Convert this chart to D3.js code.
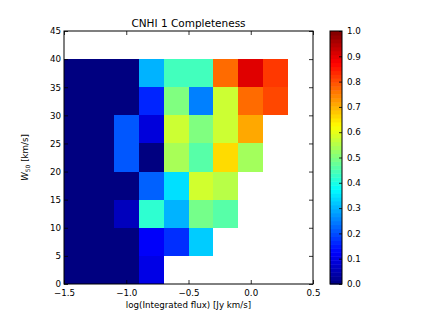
<!DOCTYPE html>
<html>
<head>
<meta charset="utf-8">
<script src="https://cdn.jsdelivr.net/npm/d3@7"></script>
<style>
  body { margin: 0; background: #fff; }
  svg { font-family: "DejaVu Sans", sans-serif; }
</style>
</head>
<body>
<svg id="chart"></svg>
<script>
// bin edges
const xEdges = [-1.5, -1.3, -1.1, -0.9, -0.7, -0.5, -0.3, -0.1, 0.1, 0.3];
const yEdges = [0, 5, 10, 15, 20, 25, 30, 35, 40];

// completeness per W50 row (bottom row first), null = no data
const row0 = [0, 0, 0, 0.10, null, null, null, null, null];
const row1 = [0, 0, 0, 0.12, 0.17, 0.325, null, null, null];
const row2 = [0, 0, 0.06, 0.42, 0.30, 0.49, 0.46, null, null];
const row3 = [0, 0, 0, 0.22, 0.345, 0.58, 0.555, null, null];
const row4 = [0, 0, 0.21, 0, 0.54, 0.46, 0.66, 0.535, null];
const row5 = [0, 0, 0.21, 0.09, 0.575, 0.50, 0.575, 0.71, null];
const row6 = [0, 0, 0, 0.16, 0.50, 0.25, 0.575, 0.77, 0.805];
const row7 = [0, 0, 0, 0.30, 0.44, 0.44, 0.77, 0.905, 0.82];
const rows = [row0, row1, row2, row3, row4, row5, row6, row7];

const xTicks = [-1.5, -1.0, -0.5, 0.0, 0.5];
const yTicks = [0, 5, 10, 15, 20, 25, 30, 35, 40, 45];
const cTicks = [0, 0.1, 0.2, 0.3, 0.4, 0.5, 0.6, 0.7, 0.8, 0.9, 1.0];

const W = 421, H = 316;
const svg = d3.select("#chart").attr("width", W).attr("height", H);

const m = { left: 64, right: 313, top: 31, bottom: 284 };
const x = d3.scaleLinear().domain([-1.5, 0.5]).range([m.left, m.right]);
const y = d3.scaleLinear().domain([0, 45]).range([m.bottom, m.top]);

// matplotlib jet
const clip = v => Math.max(0, Math.min(1, v));
const jet = t => {
  const r = clip(1.5 - Math.abs(4 * t - 3));
  const g = clip(1.5 - Math.abs(4 * t - 2));
  const b = clip(1.5 - Math.abs(4 * t - 1));
  return d3.rgb(r * 255, g * 255, b * 255).toString();
};

const fmt = d3.format(".1f");
const minus = s => s.replace("-", "\u2212");

// cells
const cells = [];
rows.forEach((row, j) => {
  row.forEach((v, i) => {
    if (v !== null) cells.push({ i, j, v });
  });
});

svg.append("g")
  .selectAll("rect")
  .data(cells)
  .enter()
  .append("rect")
  .attr("x", d => x(xEdges[d.i]))
  .attr("y", d => y(yEdges[d.j] + 5))
  .attr("width", d => x(xEdges[d.i] + 0.2) - x(xEdges[d.i]))
  .attr("height", d => y(yEdges[d.j]) - y(yEdges[d.j] + 5))
  .attr("fill", d => jet(d.v))
  .attr("shape-rendering", "crispEdges");

// axes, ticks inward on all sides
const tk = 4;
svg.append("g")
  .attr("transform", `translate(0,${m.bottom})`)
  .call(d3.axisBottom(x).tickValues(xTicks).tickSize(-tk).tickPadding(6).tickFormat(d => minus(fmt(d))));
svg.append("g")
  .attr("transform", `translate(0,${m.top})`)
  .call(d3.axisTop(x).tickValues(xTicks).tickSize(-tk).tickFormat(""));
svg.append("g")
  .attr("transform", `translate(${m.left},0)`)
  .call(d3.axisLeft(y).tickValues(yTicks).tickSize(-tk).tickPadding(3));
svg.append("g")
  .attr("transform", `translate(${m.right},0)`)
  .call(d3.axisRight(y).tickValues(yTicks).tickSize(-tk).tickFormat(""));

svg.selectAll(".domain").remove();
svg.selectAll(".tick line").attr("stroke", "#000").attr("stroke-width", 0.8);
svg.selectAll(".tick text").attr("font-size", "8.7px").attr("fill", "#000").attr("font-family", "DejaVu Sans");

svg.append("rect")
  .attr("x", m.left).attr("y", m.top)
  .attr("width", m.right - m.left).attr("height", m.bottom - m.top)
  .attr("fill", "none").attr("stroke", "#000").attr("stroke-width", 1);

// title and labels
svg.append("text")
  .attr("x", (m.left + m.right) / 2).attr("y", 27)
  .attr("text-anchor", "middle")
  .attr("font-size", "10.5px")
  .text("CNHI 1 Completeness");

svg.append("text")
  .attr("x", (m.left + m.right) / 2).attr("y", 308)
  .attr("text-anchor", "middle")
  .attr("font-size", "8.7px")
  .text("log(Integrated flux) [Jy km/s]");

const yl = svg.append("text")
  .attr("transform", `translate(28,${(m.top + m.bottom) / 2}) rotate(-90)`)
  .attr("text-anchor", "middle")
  .attr("font-size", "8.7px");
yl.append("tspan").attr("font-style", "italic").text("W");
yl.append("tspan").attr("font-size", "6px").attr("dy", 2).text("50");
yl.append("tspan").attr("dy", -2).text(" [km/s]");

// colorbar
const cbX = 330, cbW = 12;
const c = d3.scaleLinear().domain([0, 1]).range([m.bottom, m.top]);
const steps = d3.range(0, 1, 1 / 64);
svg.append("g")
  .selectAll("rect")
  .data(steps)
  .enter()
  .append("rect")
  .attr("x", cbX)
  .attr("y", d => c(d + 1 / 64))
  .attr("width", cbW)
  .attr("height", d => c(d) - c(d + 1 / 64) + 0.5)
  .attr("fill", d => jet(d + 0.5 / 64));

svg.append("rect")
  .attr("x", cbX).attr("y", m.top)
  .attr("width", cbW).attr("height", m.bottom - m.top)
  .attr("fill", "none").attr("stroke", "#000").attr("stroke-width", 1);

const cbAxis = svg.append("g")
  .attr("transform", `translate(${cbX + cbW},0)`)
  .call(d3.axisRight(c).tickValues(cTicks).tickSize(-3).tickPadding(5).tickFormat(fmt));
cbAxis.select(".domain").remove();
cbAxis.selectAll(".tick line").attr("stroke", "#000").attr("stroke-width", 0.8);
cbAxis.selectAll(".tick text").attr("font-size", "8.7px").attr("fill", "#000").attr("font-family", "DejaVu Sans");
</script>
</body>
</html>
